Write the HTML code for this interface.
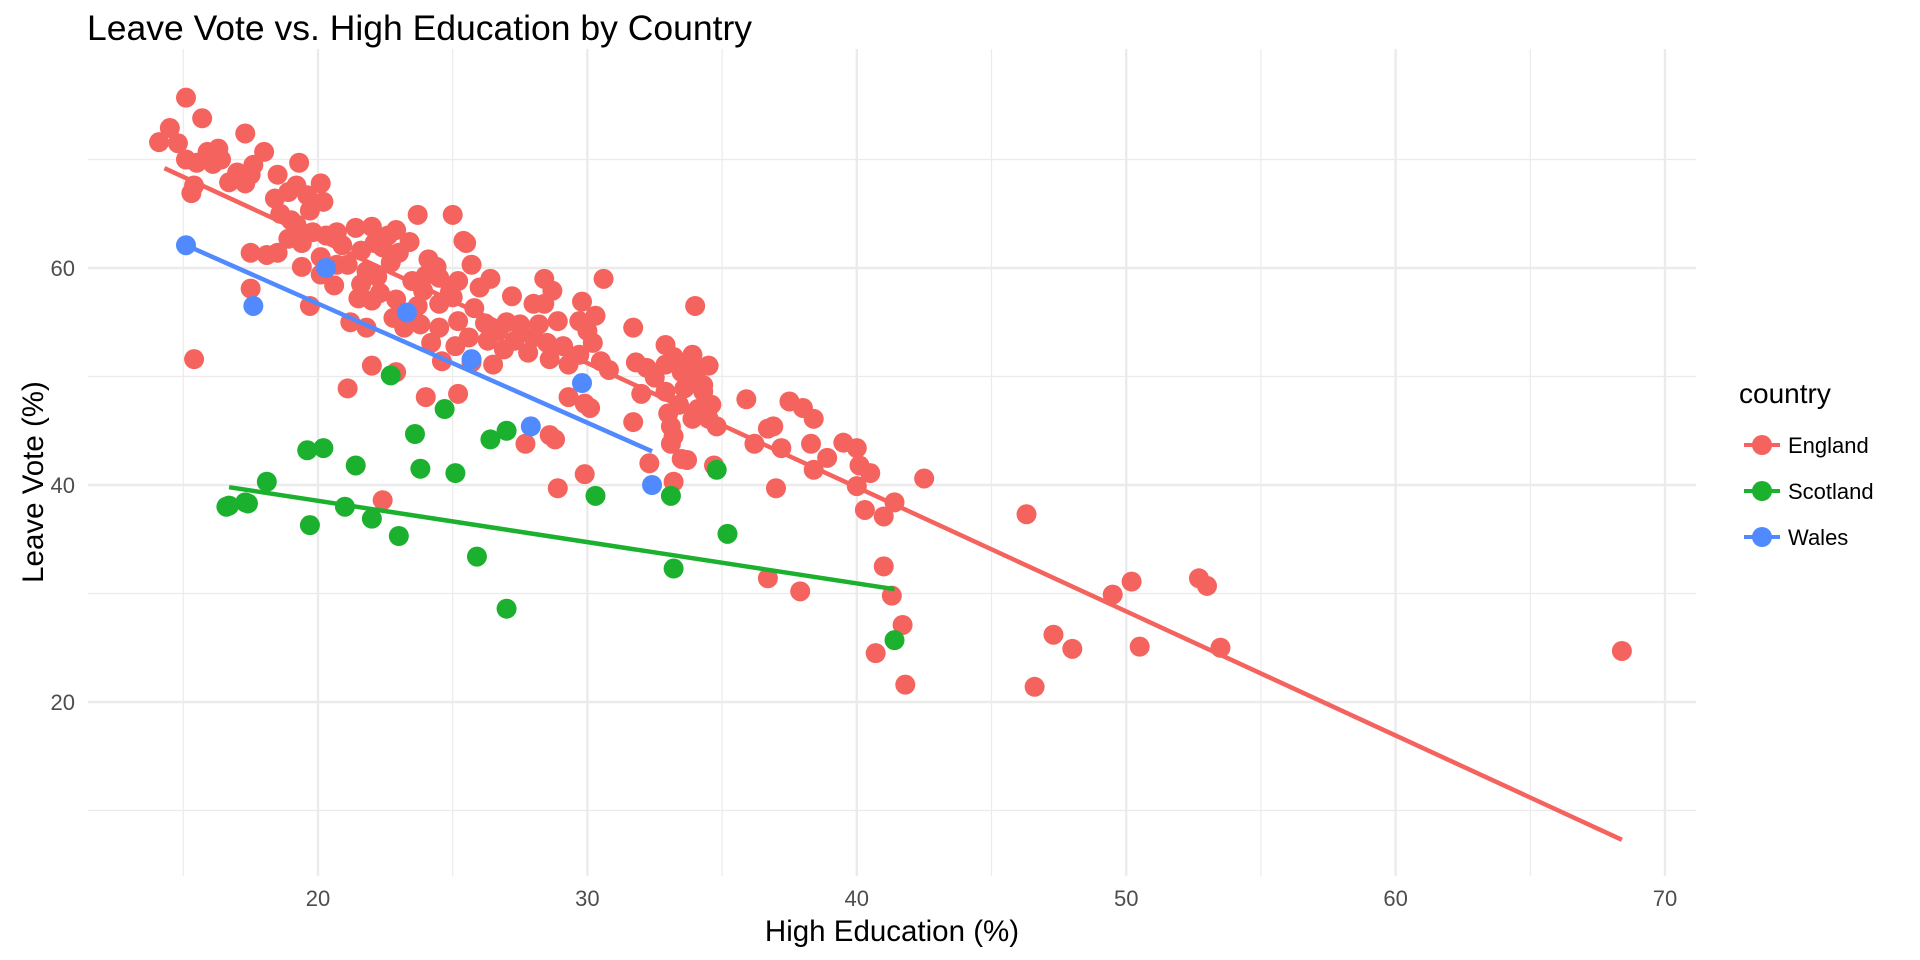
<!DOCTYPE html>
<html><head><meta charset="utf-8"><style>
html,body{margin:0;padding:0;background:#fff;}
svg{display:block;font-family:"Liberation Sans",Arial,sans-serif;}
</style></head><body>
<svg id="chart" width="1920" height="960" viewBox="0 0 1920 960">
<text x="87" y="40" font-size="35.5" fill="#000">Leave Vote vs. High Education by Country</text>
<g id="grid"></g>
<g id="points"></g>
<g id="lines"></g>
<g id="axes"></g>
<text x="892" y="941" font-size="29.5" text-anchor="middle" fill="#000">High Education (%)</text>
<text transform="translate(43,482) rotate(-90)" font-size="29.5" text-anchor="middle" fill="#000">Leave Vote (%)</text>
<g>
<text x="1739" y="403" font-size="28" fill="#000">country</text>
<g><line x1="1744" x2="1780" y1="445" y2="445" stroke="#F4635E" stroke-width="4"/><circle cx="1762" cy="445" r="10" fill="#F4635E"/><text x="1788" y="453" font-size="22" fill="#000">England</text></g>
<g><line x1="1744" x2="1780" y1="491" y2="491" stroke="#1BB12F" stroke-width="4"/><circle cx="1762" cy="491" r="10" fill="#1BB12F"/><text x="1788" y="499" font-size="22" fill="#000">Scotland</text></g>
<g><line x1="1744" x2="1780" y1="537" y2="537" stroke="#518AFF" stroke-width="4"/><circle cx="1762" cy="537" r="10" fill="#518AFF"/><text x="1788" y="545" font-size="22" fill="#000">Wales</text></g>
</g>
</svg>
<script>
const englandX=[15.1,14.5,14.1,14.8,15.7,15.1,15.5,15.9,16.3,16.4,16.1,15.4,15.3,17.3,18.0,17.6,17.0,16.7,17.3,17.5,18.5,19.3,19.2,18.9,18.4,18.6,19.0,19.6,20.1,20.2,19.7,19.2,18.9,19.4,19.8,20.3,20.7,20.9,21.4,22.0,22.1,21.6,22.6,22.9,22.4,23.0,23.4,23.7,24.1,24.4,24.0,23.5,23.9,23.7,23.8,23.2,22.8,22.9,22.3,22.0,21.5,21.2,21.8,21.6,21.8,21.1,20.6,20.7,20.1,19.4,18.5,17.5,20.1,22.2,22.7,24.5,24.9,25.2,25.7,25.4,25.0,25.5,25.0,24.5,24.5,25.2,25.6,25.1,24.6,25.8,26.0,26.4,26.2,26.7,26.9,26.5,27.0,27.2,27.5,27.3,27.8,28.0,28.2,28.4,28.4,28.7,28.9,28.5,28.6,29.1,29.3,29.7,29.7,29.8,30.0,30.3,30.2,30.5,30.8,30.6,29.9,29.3,30.1,31.7,31.8,32.2,31.7,32.0,32.5,32.9,32.9,33.2,32.9,33.0,33.1,33.1,33.2,33.5,33.6,33.4,33.7,33.9,33.9,34.1,34.3,33.9,34.1,34.5,34.3,34.6,34.5,34.8,34.0,33.5,33.7,33.2,32.3,34.7,35.9,36.2,36.7,36.9,37.0,37.2,37.5,38.0,38.4,38.3,38.4,38.9,39.5,40.0,40.1,40.0,40.3,40.5,41.0,41.4,41.0,42.5,36.7,37.9,41.3,41.7,40.7,41.8,46.3,47.3,48.0,49.5,50.2,50.5,52.7,53.0,53.5,46.6,68.4,15.4,19.7,17.5,18.1,21.1,22.0,22.4,22.9,24.0,25.2,25.7,27.7,28.6,28.8,28.9,29.9,28.0,26.3,24.2];
const englandY=[75.7,72.9,71.6,71.5,73.8,70.0,69.7,70.7,71.0,70.0,69.6,67.6,66.9,72.4,70.7,69.5,68.8,67.9,67.8,68.6,68.6,69.7,67.6,67.0,66.4,65.0,64.4,66.7,67.8,66.1,65.3,64.0,62.7,62.3,63.3,63.0,63.3,62.1,63.7,63.8,62.3,61.6,63.0,63.5,61.9,61.4,62.4,64.9,60.8,60.1,59.3,58.8,57.9,56.5,54.8,54.5,55.4,57.1,57.7,57.0,57.2,55.0,54.5,58.5,59.7,60.3,58.4,60.3,61.0,60.1,61.4,61.4,59.4,59.2,60.5,59.1,57.8,58.8,60.3,62.5,64.9,62.3,57.3,56.7,54.5,55.1,53.6,52.8,51.4,56.3,58.2,59.0,54.9,54.2,52.5,51.1,55.0,57.4,54.8,53.3,52.2,53.6,54.8,56.7,59.0,57.9,55.1,53.1,51.6,52.8,51.1,52.0,55.1,56.9,54.2,55.6,53.1,51.4,50.6,59.0,47.5,48.1,47.1,54.5,51.3,50.8,45.8,48.4,49.9,52.9,51.1,51.8,48.6,46.6,45.4,43.8,44.5,50.4,48.9,47.4,51.2,52.0,50.0,50.7,49.2,46.1,47.0,51.0,48.6,47.4,46.1,45.4,56.5,42.4,42.3,40.3,42.0,41.8,47.9,43.8,45.2,45.4,39.7,43.4,47.7,47.1,46.1,43.8,41.4,42.5,43.9,43.4,41.8,39.9,37.7,41.1,37.1,38.4,32.5,40.6,31.4,30.2,29.8,27.1,24.5,21.6,37.3,26.2,24.9,29.9,31.1,25.1,31.4,30.7,25.0,21.4,24.7,51.6,56.5,58.1,61.2,48.9,51.0,38.6,50.4,48.1,48.4,51.3,43.8,44.6,44.2,39.7,41.0,56.7,53.3,53.1];
const scotlandX=[16.6,16.7,17.3,17.4,18.1,19.6,20.2,19.7,21.4,21.0,22.0,22.7,23.0,23.6,23.8,24.7,25.1,25.9,26.4,27.0,27.0,30.3,33.1,33.2,34.8,35.2,41.4];
const scotlandY=[38.0,38.1,38.4,38.3,40.3,43.2,43.4,36.3,41.8,38.0,36.9,50.1,35.3,44.7,41.5,47.0,41.1,33.4,44.2,45.0,28.6,39.0,39.0,32.3,41.4,35.5,25.7];
const walesX=[15.1,17.6,20.3,23.3,25.7,27.9,29.8,32.4];
const walesY=[62.1,56.5,60.0,55.9,51.6,45.4,49.4,40.0];
// fitted trend line endpoints (x range and fitted values)
const trendX0=[14.3,16.7,15.1];
const trendX1=[68.4,41.4,32.4];
const trendY0=[69.2,39.8,62.1];
const trendY1=[7.3,30.4,43.1];
const xTicks=[20,30,40,50,60,70];
const yTicks=[20,40,60];
const xMinor=[15,25,35,45,55,65];
const yMinor=[10,30,50,70];

const NS="http://www.w3.org/2000/svg";
const L=88,R=1696,T=49,B=876;
function sx(v){return 318+(v-20)*26.94;}
function sy(v){return 702-(v-20)*10.85;}
function mk(tag,attrs,parent){const e=document.createElementNS(NS,tag);for(const k in attrs)e.setAttribute(k,attrs[k]);parent.appendChild(e);return e;}
const grid=document.getElementById('grid');
xMinor.forEach(v=>{const e=mk('line',{x1:sx(v),x2:sx(v),y1:T,y2:B,stroke:'#ebebeb','stroke-width':1.2},grid);

});
yMinor.forEach(v=>{const e=mk('line',{x1:L,x2:R,y1:sy(v),y2:sy(v),stroke:'#ebebeb','stroke-width':1.2},grid);

});
xTicks.forEach(v=>{const e=mk('line',{x1:sx(v),x2:sx(v),y1:T,y2:B,stroke:'#ebebeb','stroke-width':2.4},grid);

});
yTicks.forEach(v=>{const e=mk('line',{x1:L,x2:R,y1:sy(v),y2:sy(v),stroke:'#ebebeb','stroke-width':2.4},grid);

});
const axes=document.getElementById('axes');
xTicks.forEach(v=>{const t=mk('text',{x:sx(v),y:906,'font-size':22,'text-anchor':'middle',fill:'#4d4d4d'},axes);t.textContent=v;

});
yTicks.forEach(v=>{const t=mk('text',{x:75,y:sy(v)+8,'font-size':22,'text-anchor':'end',fill:'#4d4d4d'},axes);t.textContent=v;

});
const pts=document.getElementById('points');
const series=[['england',englandX,englandY,'#F4635E'],['scotland',scotlandX,scotlandY,'#1BB12F'],['wales',walesX,walesY,'#518AFF']];
series.forEach(([n,xs,ys,c])=>{xs.forEach((x,i)=>{const p=mk('circle',{cx:sx(x),cy:sy(ys[i]),r:10,fill:c},pts);

});});
const lines=document.getElementById('lines');
series.forEach(([n,xs,ys,c],i)=>{
const ln=mk('line',{x1:sx(trendX0[i]),y1:sy(trendY0[i]),x2:sx(trendX1[i]),y2:sy(trendY1[i]),stroke:c,'stroke-width':4.5},lines);

});
</script>
</body></html>
